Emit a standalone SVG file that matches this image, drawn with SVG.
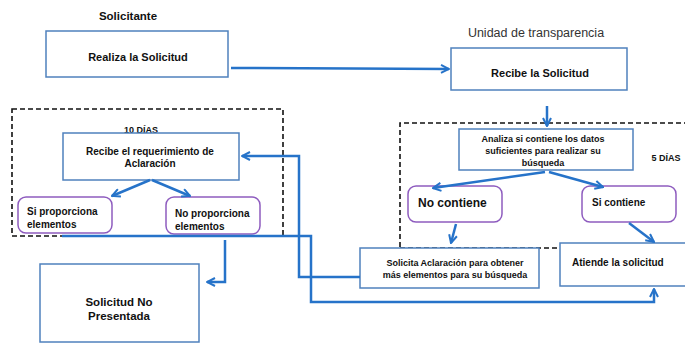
<svg xmlns="http://www.w3.org/2000/svg" width="685" height="346" viewBox="0 0 685 346">
<defs>
<style>
.box{fill:#fff;stroke:#4f81bd;stroke-width:1.5}
.rbox{fill:#fff;stroke:#8e5cbf;stroke-width:1.5}
.dash{fill:none;stroke:#111;stroke-width:1.6;stroke-dasharray:5,3}
.conn{fill:none;stroke:#2673c9;stroke-width:2.5}
text{font-family:"Liberation Sans",Arial,sans-serif;font-weight:bold;fill:#111}
.t{font-size:11px}
.s{font-size:9px}
.p{font-size:10px}
.m{font-size:10px}
.l{font-size:12px}
</style>
<marker id="ah" viewBox="0 0 10 10" refX="9" refY="5" markerWidth="10" markerHeight="10" markerUnits="userSpaceOnUse" orient="auto">
<path d="M1,1 L9,5 L1,9" fill="none" stroke="#2673c9" stroke-width="2"/>
</marker>
</defs>
<rect width="685" height="346" fill="#fff"/>

<g id="labels">
<text x="128" y="20" text-anchor="middle" style="font-size:11.5px">Solicitante</text>
<text x="536" y="37" text-anchor="middle" style="font-size:12.5px;font-weight:normal;fill:#333">Unidad de transparencia</text>
<text x="141" y="133" text-anchor="middle" class="s">10 DÍAS</text>
<text x="666" y="161" text-anchor="middle" class="s">5 DÍAS</text>
</g>

<g id="dashed-regions">
<rect x="12" y="109" width="271" height="127" class="dash"/>
<path d="M400,247 L400,123 L685,123 M400,248 L685,248" class="dash"/>
</g>

<g id="n-realiza">
<rect x="46" y="31" width="182" height="46" class="box"/>
<text x="138" y="61" text-anchor="middle" class="t">Realiza la Solicitud</text>
</g>
<g id="n-recibe">
<rect x="451" y="48" width="176" height="42" class="box"/>
<text x="540" y="77" text-anchor="middle" class="t">Recibe la Solicitud</text>
</g>
<g id="n-analiza">
<rect x="459" y="129" width="174" height="41" class="box"/>
<text x="543" y="142" text-anchor="middle" class="s">Analiza si contiene los datos</text>
<text x="543" y="154" text-anchor="middle" class="s">suficientes para realizar su</text>
<text x="543" y="166" text-anchor="middle" class="s">búsqueda</text>
</g>
<g id="n-nocontiene">
<rect x="408" y="186" width="94" height="36" rx="8" class="rbox"/>
<text x="418" y="207" class="l">No contiene</text>
</g>
<g id="n-sicontiene">
<rect x="582" y="186" width="94" height="36" rx="8" class="rbox"/>
<text x="592" y="206" class="m">Si contiene</text>
</g>
<g id="n-solicita">
<rect x="360" y="248" width="179" height="40" class="box"/>
<text x="455" y="266" text-anchor="middle" class="s">Solicita Aclaración para obtener</text>
<text x="455" y="278" text-anchor="middle" class="s">más elementos para su búsqueda</text>
</g>
<g id="n-atiende">
<rect x="560" y="243" width="130" height="43" class="box"/>
<text x="572" y="266" class="m">Atiende la solicitud</text>
</g>
<g id="n-requerimiento">
<rect x="63" y="133" width="176" height="47" class="box"/>
<text x="150" y="155" text-anchor="middle" class="p">Recibe el requerimiento de</text>
<text x="150" y="167" text-anchor="middle" class="p">Aclaración</text>
</g>
<g id="n-siproporciona">
<rect x="18" y="197" width="94" height="36" rx="8" class="rbox"/>
<text x="27" y="215" class="p">Si proporciona</text>
<text x="27" y="228" class="p">elementos</text>
</g>
<g id="n-noproporciona">
<rect x="166" y="197" width="94" height="37" rx="8" class="rbox"/>
<text x="175" y="217" class="p">No proporciona</text>
<text x="175" y="230" class="p">elementos</text>
</g>
<g id="n-nopresentada">
<rect x="40" y="264" width="159" height="78" class="box"/>
<text x="119" y="306" text-anchor="middle" style="font-size:11.5px">Solicitud No</text>
<text x="119" y="320" text-anchor="middle" style="font-size:11.5px">Presentada</text>
</g>

<g id="connectors">
<path d="M231,68 L449,69" class="conn" marker-end="url(#ah)"/>
<path d="M547,106 L547,126" class="conn" marker-end="url(#ah)"/>
<path d="M545,172 L433,188" class="conn" marker-end="url(#ah)"/>
<path d="M549,172 L603,187" class="conn" marker-end="url(#ah)"/>
<path d="M456,224 L451,243" class="conn" marker-end="url(#ah)"/>
<path d="M629,223 L654,242" class="conn" marker-end="url(#ah)"/>
<path d="M360,277 L299,277 L299,156 L242,156" class="conn" marker-end="url(#ah)"/>
<path d="M62,236 L311,236 L311,302 L654,302 L654,289" class="conn" marker-end="url(#ah)"/>
<path d="M150,180 L112,196" class="conn" marker-end="url(#ah)"/>
<path d="M152,180 L190,196" class="conn" marker-end="url(#ah)"/>
<path d="M225,240 L225,282 L207,282" class="conn" marker-end="url(#ah)"/>
</g>
</svg>
